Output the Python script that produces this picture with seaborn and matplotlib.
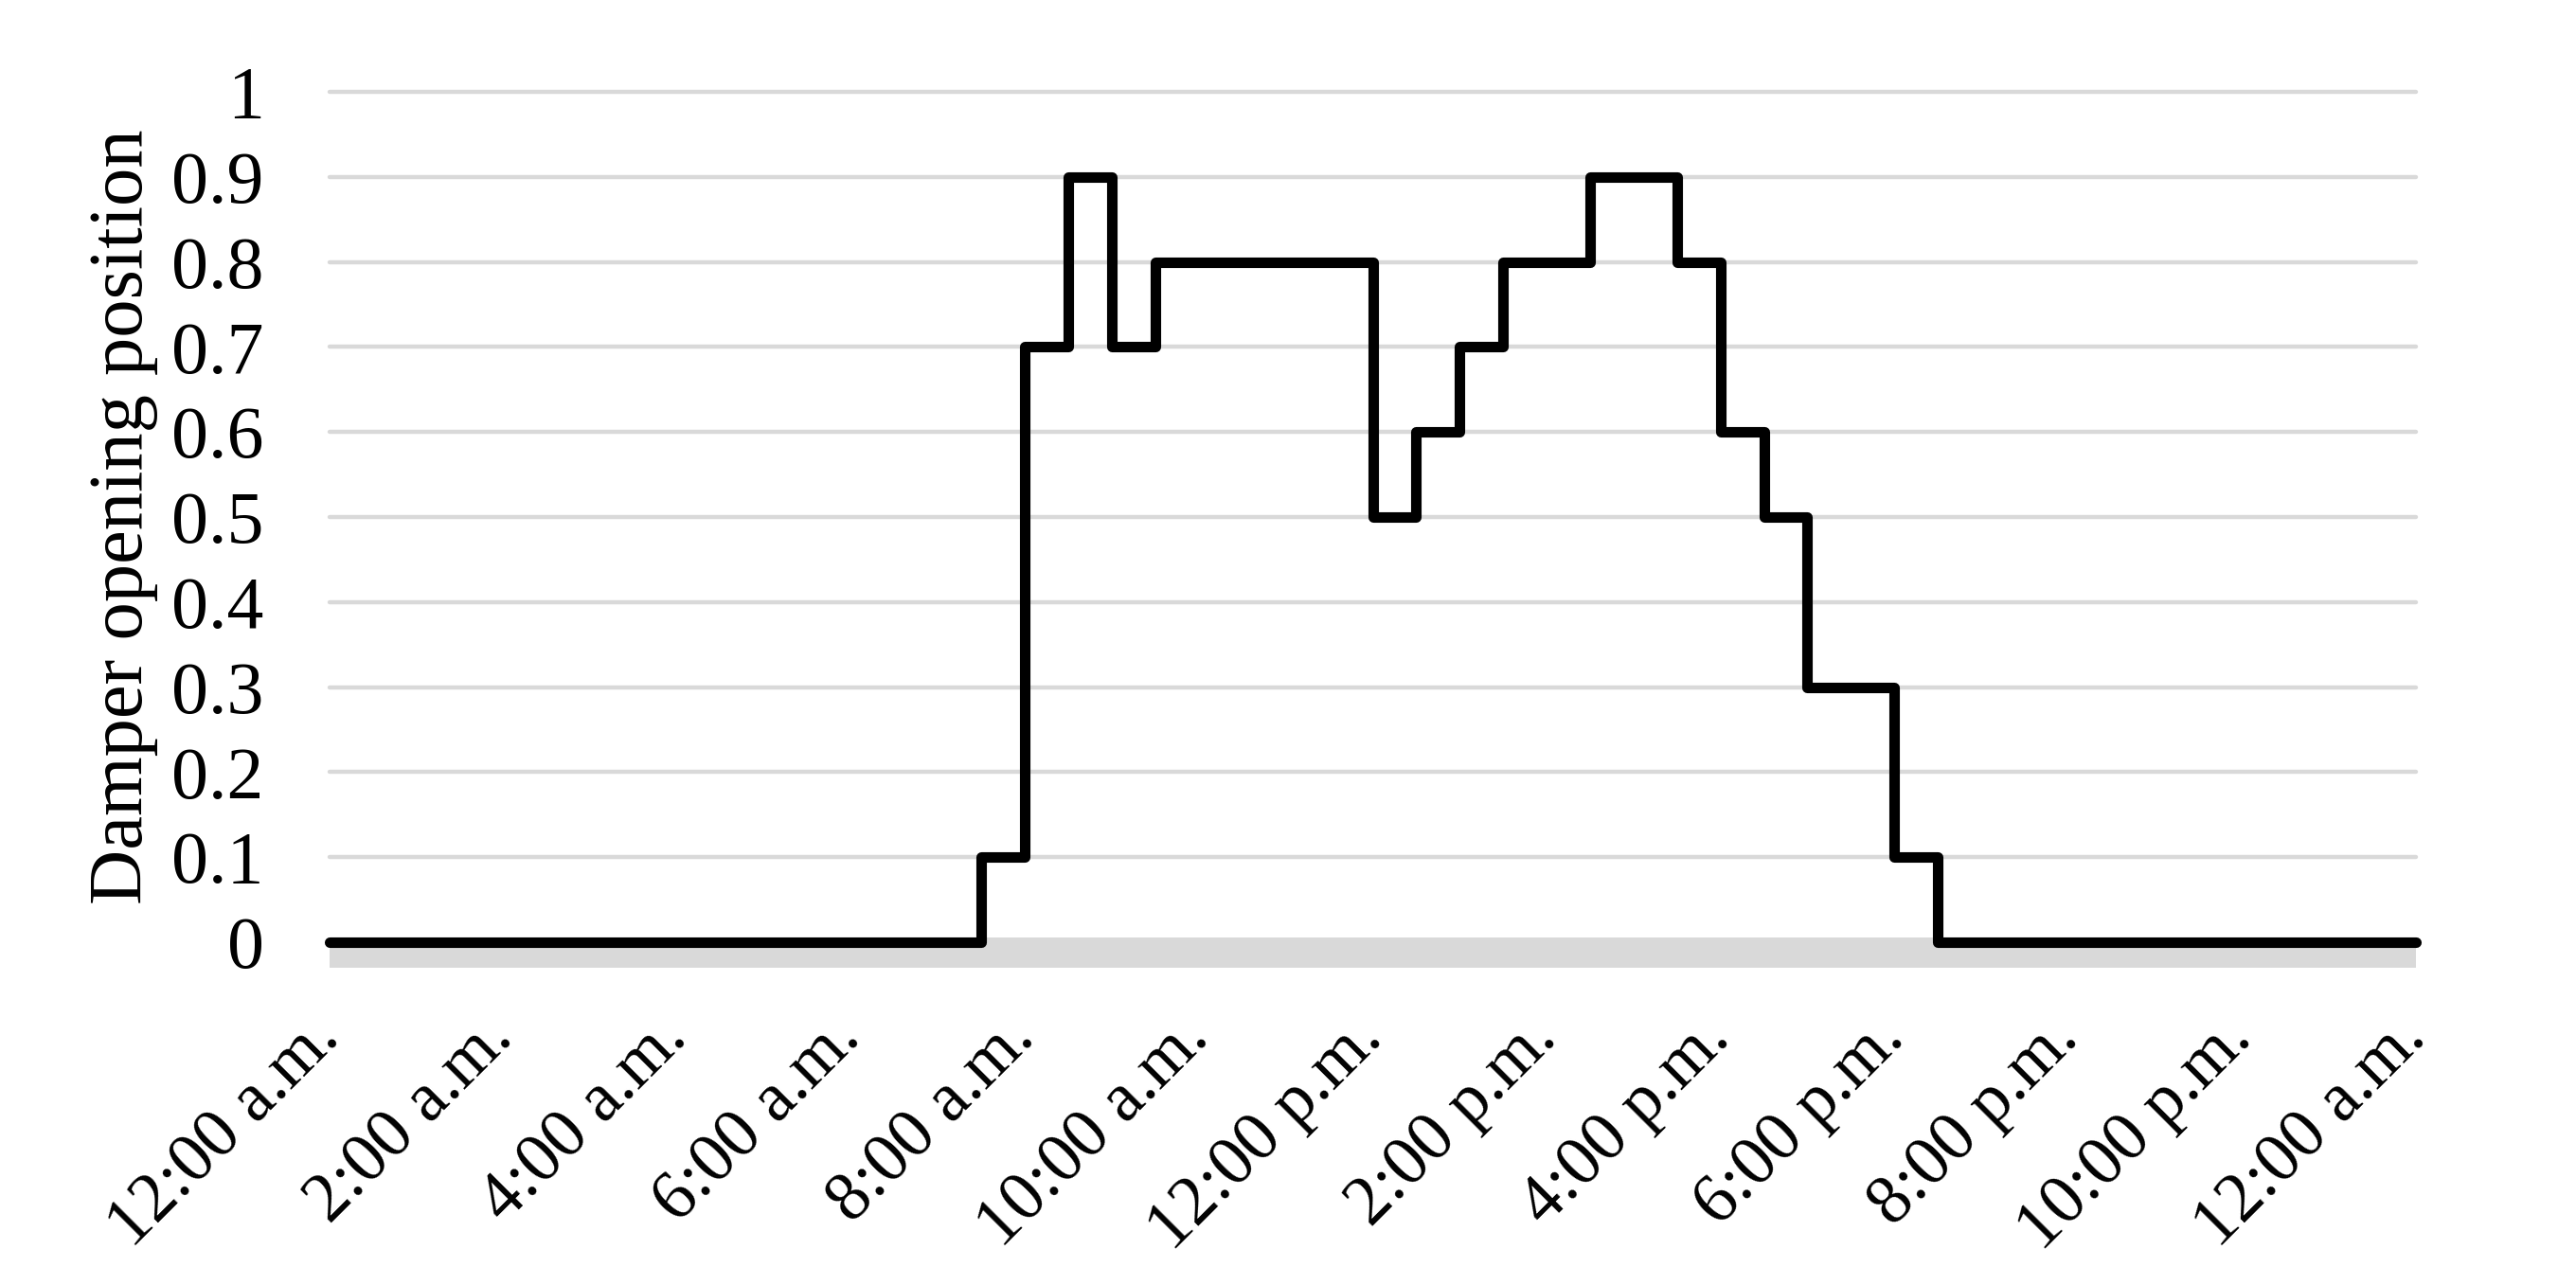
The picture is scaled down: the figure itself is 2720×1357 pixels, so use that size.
import matplotlib
matplotlib.use("Agg")
import matplotlib.pyplot as plt
import seaborn as sns
import pandas as pd

# Data (hours since midnight, damper position) - step changes
hours = [0, 7.5, 8, 8.5, 9, 9.5, 12, 12.5, 13, 13.5, 14.5, 15.5, 16, 16.5, 17, 18, 18.5, 24]
damper = [0, 0.1, 0.7, 0.9, 0.7, 0.8, 0.5, 0.6, 0.7, 0.8, 0.9, 0.8, 0.6, 0.5, 0.3, 0.1, 0, 0]

tick_hours = [0, 2, 4, 6, 8, 10, 12, 14, 16, 18, 20, 22, 24]
tick_labels = ["12:00 a.m.", "2:00 a.m.", "4:00 a.m.", "6:00 a.m.", "8:00 a.m.",
               "10:00 a.m.", "12:00 p.m.", "2:00 p.m.", "4:00 p.m.", "6:00 p.m.",
               "8:00 p.m.", "10:00 p.m.", "12:00 a.m."]
y_ticks = [0, 0.1, 0.2, 0.3, 0.4, 0.5, 0.6, 0.7, 0.8, 0.9, 1]
y_labels = ["0", "0.1", "0.2", "0.3", "0.4", "0.5", "0.6", "0.7", "0.8", "0.9", "1"]

sns.set_theme(style="white")
plt.rcParams['font.family'] = ['Liberation Serif', 'DejaVu Serif']
plt.rcParams['text.color'] = 'black'
plt.rcParams['xtick.color'] = 'black'
plt.rcParams['ytick.color'] = 'black'
plt.rcParams['axes.labelcolor'] = 'black'

df = pd.DataFrame({"hour": hours, "damper": damper})

fig = plt.figure(figsize=(13.6, 6.785), dpi=200)
ax = fig.add_axes([348/2720, 1 - 995/1357, (2551-348)/2720, (995-97)/1357])

sns.lineplot(data=df, x="hour", y="damper", ax=ax, color="black",
             linewidth=4.0, drawstyle="steps-post", clip_on=False, zorder=5)

# spines first (set_position resets ticks)
for s in ["top", "right", "left"]:
    ax.spines[s].set_visible(False)
sp = ax.spines["bottom"]
sp.set_color("#d9d9d9")
sp.set_linewidth(11.5)
sp.set_capstyle("butt")
sp.set_position(("outward", 3.8))
sp.set_zorder(1)

ax.set_xlim(0, 24)
ax.set_ylim(0, 1)
ax.yaxis.grid(True, color="#d9d9d9", linewidth=1.6)
ax.xaxis.grid(False)
ax.tick_params(axis="x", length=0, pad=29, labelsize=26.5, labelcolor="black")
ax.tick_params(axis="y", length=0, pad=25, labelsize=28, labelcolor="black")
ax.set_xticks(tick_hours)
ax.set_xticklabels(tick_labels, rotation=45, ha="right", va="center",
                   rotation_mode="anchor", fontsize=26.5)
ax.set_yticks(y_ticks)
ax.set_yticklabels(y_labels)
for gl in ax.get_ygridlines():
    gl.set_clip_on(False)

ax.set_xlabel("")
ax.set_ylabel("Damper opening position", fontsize=29, labelpad=5, color="black")

fig.savefig("out.png", dpi=200, facecolor="white")
